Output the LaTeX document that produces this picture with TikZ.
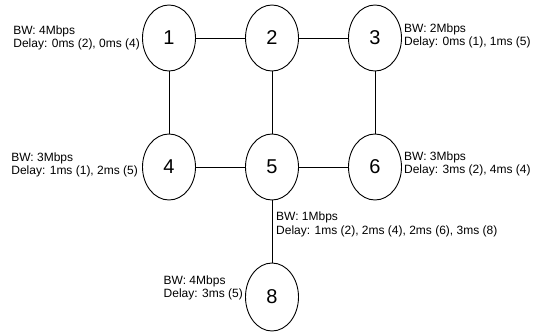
\documentclass[tikz,border=0pt]{standalone}
\usepackage{fontspec}
\setmainfont{Liberation Sans}
\usetikzlibrary{shapes.geometric}
\begin{document}
\begin{tikzpicture}[x=1pt,y=-1pt,
  nd/.style={draw, ellipse, line width=0.9pt, minimum width=53pt, minimum height=66pt, inner sep=0pt, font=\fontsize{20}{20}\selectfont},
  lbl/.style={align=left, inner sep=0pt, font=\fontsize{12}{13.5}\selectfont},
  lnk/.style={line width=0.9pt}]
\useasboundingbox (0,0) rectangle (544,333);
\node[nd] (n1) at (169,38) {1};
\node[nd] (n2) at (272,38) {2};
\node[nd] (n3) at (375,38) {3};
\node[nd] (n4) at (169,167) {4};
\node[nd] (n5) at (272,167) {5};
\node[nd] (n6) at (375,167) {6};
\node[nd, minimum height=68pt] (n8) at (272,297) {8};
\draw[lnk] (n1) -- (n2);
\draw[lnk] (n2) -- (n3);
\draw[lnk] (n1) -- (n4);
\draw[lnk] (n2) -- (n5);
\draw[lnk] (n3) -- (n6);
\draw[lnk] (n4) -- (n5);
\draw[lnk] (n5) -- (n6);
\draw[lnk] (n5) -- (n8);
\node[lbl, anchor=east] (l1) at ([xshift=-2pt]n1.west) {BW: 4Mbps\\Delay: 0ms (2), 0ms (4)};
\node[lbl, anchor=west] (l3) at ([xshift=2pt,yshift=2pt]n3.east) {BW: 2Mbps\\Delay: 0ms (1), 1ms (5)};
\node[lbl, anchor=east] (l4) at ([xshift=-4pt,yshift=2pt]n4.west) {BW: 3Mbps\\Delay: 1ms (1), 2ms (5)};
\node[lbl, anchor=west] (l6) at ([xshift=2pt,yshift=3pt]n6.east) {BW: 3Mbps\\Delay: 3ms (2), 4ms (4)};
\node[lbl, anchor=north west] (l5) at (276,212) {BW: 1Mbps\\Delay: 1ms (2), 2ms (4), 2ms (6), 3ms (8)};
\node[lbl, anchor=east] (l8) at ([xshift=-2pt,yshift=9pt]n8.west) {BW: 4Mbps\\Delay: 3ms (5)};
\end{tikzpicture}
\end{document}
